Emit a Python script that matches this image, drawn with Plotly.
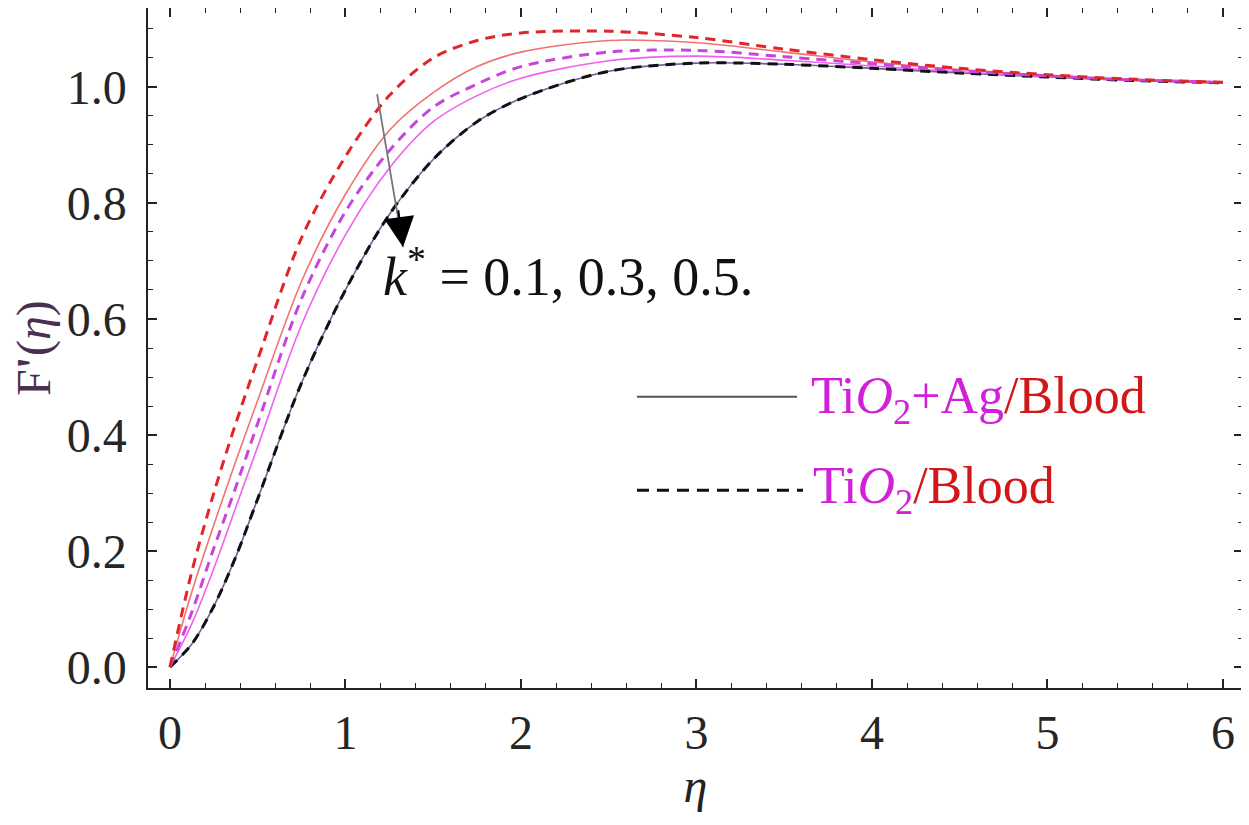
import plotly.graph_objects as go

# ---- data ----
eta = [0, 0.125, 0.25, 0.375, 0.5, 0.75, 1.0, 1.25, 1.5, 1.75, 2.0, 2.5, 3.0, 3.5, 4.0, 4.5, 5.0, 5.5, 6.0]

# k* = 0.1
hybrid_k01 = [0, 0.13, 0.245, 0.355, 0.46, 0.665, 0.815, 0.925, 0.99, 1.035, 1.06, 1.08, 1.076, 1.06, 1.043, 1.03, 1.02, 1.012, 1.008]
mono_k01   = [0, 0.165, 0.30, 0.42, 0.53, 0.74, 0.88, 0.985, 1.05, 1.08, 1.093, 1.096, 1.085, 1.065, 1.047, 1.032, 1.021, 1.013, 1.008]
# k* = 0.3
hybrid_k03 = [0, 0.075, 0.17, 0.275, 0.38, 0.59, 0.745, 0.86, 0.94, 0.985, 1.015, 1.045, 1.053, 1.046, 1.036, 1.026, 1.018, 1.011, 1.007]
mono_k03   = [0, 0.095, 0.205, 0.31, 0.42, 0.635, 0.785, 0.89, 0.965, 1.005, 1.035, 1.06, 1.063, 1.052, 1.04, 1.028, 1.019, 1.012, 1.008]
# k* = 0.5
hybrid_k05 = [0, 0.04, 0.105, 0.19, 0.29, 0.49, 0.65, 0.78, 0.875, 0.94, 0.98, 1.027, 1.041, 1.039, 1.032, 1.024, 1.017, 1.011, 1.007]
mono_k05   = [0, 0.04, 0.105, 0.19, 0.29, 0.49, 0.65, 0.78, 0.875, 0.94, 0.98, 1.027, 1.041, 1.039, 1.032, 1.024, 1.017, 1.011, 1.007]

x_ticks = [0, 1, 2, 3, 4, 5, 6]
y_ticks = [0.0, 0.2, 0.4, 0.6, 0.8, 1.0]

SERIF = "Liberation Serif, Times New Roman, serif"

fig = go.Figure()

solid_series = [
    (hybrid_k05, "#7a5a9a"),
    (hybrid_k03, "#f060f0"),
    (hybrid_k01, "#f27272"),
]
dashed_series = [
    (mono_k05, "#111111"),
    (mono_k03, "#c844dc"),
    (mono_k01, "#e0262a"),
]
for ys, col in solid_series:
    fig.add_trace(go.Scatter(x=eta, y=ys, mode="lines",
                             line=dict(color=col, width=1.6, shape="spline", smoothing=0.9),
                             showlegend=False, hoverinfo="skip"))
for ys, col in dashed_series:
    fig.add_trace(go.Scatter(x=eta, y=ys, mode="lines",
                             line=dict(color=col, width=3, dash="10px,7px", shape="spline", smoothing=0.9),
                             showlegend=False, hoverinfo="skip"))

axis_common = dict(
    showline=True, linecolor="#222", linewidth=1.5, mirror="allticks",
    ticks="inside", ticklen=9, tickwidth=1.5, tickcolor="#222",
    showgrid=False, zeroline=False, automargin=False,
    tickfont=dict(family=SERIF, size=48, color="#262626"),
)

fig.update_xaxes(range=[-0.125, 6.114], tickvals=x_ticks,
                 minor=dict(dtick=0.2, ticks="inside", ticklen=5, tickcolor="#222", tickwidth=1.2),
                 title=dict(text="<i>η</i>", font=dict(family=SERIF, size=48, color="#222"), standoff=4),
                 ticklabelstandoff=2,
                 **axis_common)
fig.update_yaxes(range=[-0.036, 1.136], tickvals=y_ticks, tickformat=".1f",
                 minor=dict(dtick=0.05, ticks="inside", ticklen=5, tickcolor="#222", tickwidth=1.2),
                 ticklabelstandoff=10,
                 **axis_common)

# y-axis title
fig.add_annotation(xref="paper", yref="paper", x=-0.104, y=0.50, xanchor="center", yanchor="middle",
                   text="F<b>'</b>(<i>η</i>)", textangle=-90, showarrow=False,
                   font=dict(family=SERIF, size=48, color="#4a3050"))

# k* arrow: gray shaft + black head
fig.add_annotation(x=1.328, y=0.724, ax=1.179, ay=0.99, xref="x", yref="y", axref="x", ayref="y",
                   text="", showarrow=True, arrowhead=0, arrowwidth=1.8, arrowcolor="#777777")
fig.add_annotation(x=1.328, y=0.724, ax=1.300, ay=0.790, xref="x", yref="y", axref="x", ayref="y",
                   text="", showarrow=True, arrowhead=2, arrowsize=3.0, arrowwidth=2, arrowcolor="#000000")

fig.add_annotation(x=1.20, y=0.68, xref="x", yref="y", xanchor="left", yanchor="middle",
                   text="<i>k</i><sup>*</sup> = 0.1, 0.3, 0.5.", showarrow=False,
                   font=dict(family=SERIF, size=54, color="#111"))

# legend (drawn as line samples + rich text)
fig.add_shape(type="line", xref="x", yref="y", x0=2.661, x1=3.573, y0=0.466, y1=0.466,
              line=dict(color="#555555", width=2))
fig.add_shape(type="line", xref="x", yref="y", x0=2.661, x1=3.607, y0=0.305, y1=0.305,
              line=dict(color="#111111", width=3, dash="12px,8px"))
MAG = "#d020d8"
RED = "#d01818"
fig.add_annotation(x=3.640, y=0.462, xref="x", yref="y", xanchor="left", yanchor="middle",
                   text=f"<span style='color:{MAG}'>Ti<i>O</i><sub>2</sub>+Ag</span><span style='color:{RED}'>/Blood</span>",
                   showarrow=False, font=dict(family=SERIF, size=52))
fig.add_annotation(x=3.650, y=0.306, xref="x", yref="y", xanchor="left", yanchor="middle",
                   text=f"<span style='color:{MAG}'>Ti<i>O</i><sub>2</sub></span><span style='color:{RED}'>/Blood</span>",
                   showarrow=False, font=dict(family=SERIF, size=52))

# the page body adds an 8px offset, so the figure is sized to compensate
fig.update_layout(width=1241, height=817,
                  margin=dict(l=140, r=6, t=0, b=137),
                  paper_bgcolor="white", plot_bgcolor="white")

fig.write_html("out.html")
